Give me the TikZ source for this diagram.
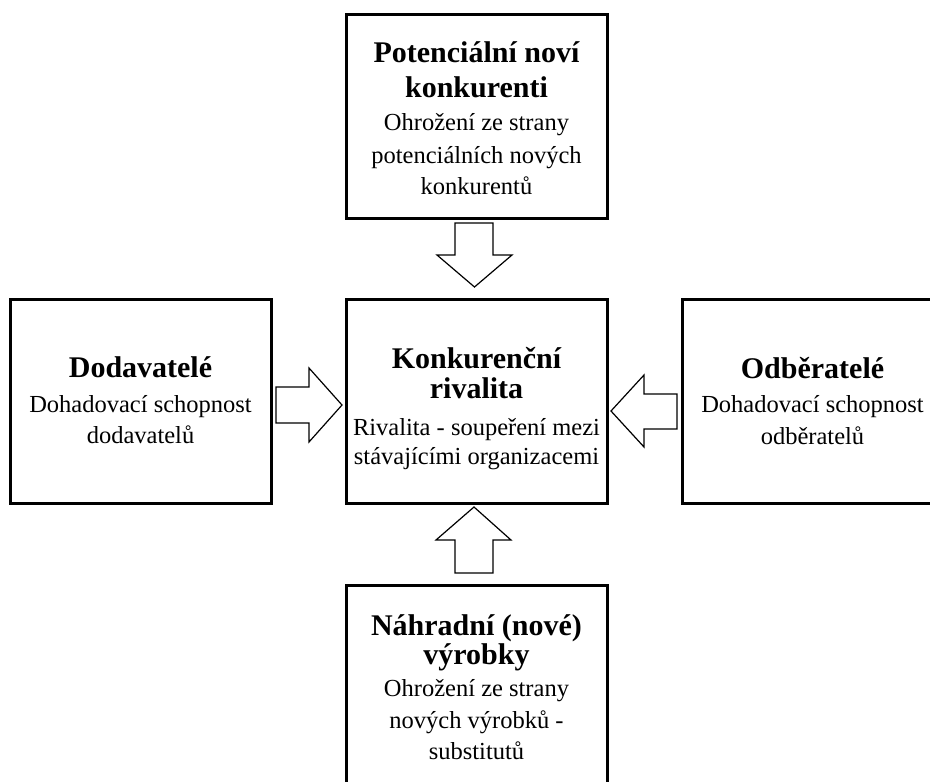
\documentclass[tikz,border=0pt]{standalone}
\usepackage{fontspec}
\setmainfont{Liberation Serif}
\tikzset{
  box/.style={draw, line width=3pt, minimum width=261pt, minimum height=204pt, inner sep=0pt},
  ttl/.style={anchor=base, inner sep=0pt, font=\fontsize{30}{32}\selectfont\bfseries},
  ln/.style={anchor=base, inner sep=0pt, font=\fontsize{24.5}{30}\selectfont},
  barrow/.style={draw, line width=1.2pt, fill=white, line join=miter}
}
\begin{document}
\begin{tikzpicture}[x=1pt, y=-1pt]
\useasboundingbox (0,0) rectangle (930,782);
\clip (0,0) rectangle (930,782);
\fill[white] (0,0) rectangle (930,782);

% boxes
\node[box] (topbox) at (476.5,116.5) {};
\node[box] (centerbox) at (476.5,401) {};
\node[box] (leftbox) at (140.5,401) {};
\node[box] (rightbox) at (812.5,401) {};
\node[box] (bottombox) at (476.5,687) {};

% top box text
\node[ttl] (t1) at (476.5,62) {Potenciální noví};
\node[ttl] (t2) at (476.5,97) {konkurenti};
\node[ln] (t3) at (476.5,130) {Ohrožení ze strany};
\node[ln] (t4) at (476.5,163) {potenciálních nových};
\node[ln] (t5) at (476.5,194) {konkurentů};

% left box text
\node[ttl] (l1) at (140.5,377) {Dodavatelé};
\node[ln] (l2) at (140.5,412) {Dohadovací schopnost};
\node[ln] (l3) at (140.5,443) {dodavatelů};

% center box text
\node[ttl] (c1) at (476.5,368) {Konkurenční};
\node[ttl] (c2) at (476.5,398) {rivalita};
\node[ln] (c3) at (476.5,435) {Rivalita - soupeření mezi};
\node[ln] (c4) at (476.5,464) {stávajícími organizacemi};

% right box text
\node[ttl] (r1) at (812.5,378) {Odběratelé};
\node[ln] (r2) at (812.5,412) {Dohadovací schopnost};
\node[ln] (r3) at (812.5,444) {odběratelů};

% bottom box text
\node[ttl] (b1) at (476.5,635) {Náhradní (nové)};
\node[ttl] (b2) at (476.5,664) {výrobky};
\node[ln] (b3) at (476.5,696) {Ohrožení ze strany};
\node[ln] (b4) at (476.5,728) {nových výrobků -};
\node[ln] (b5) at (476.5,759) {substitutů};

% block arrows
\draw[barrow] (455,223) -- (493,223) -- (493,255) -- (512,255) -- (474.5,287) -- (437,255) -- (455,255) -- cycle;
\draw[barrow] (276,387) -- (309,387) -- (309,368) -- (342,405) -- (309,442) -- (309,423) -- (276,423) -- cycle;
\draw[barrow] (677,394) -- (644,394) -- (644,375) -- (611,411) -- (644,447) -- (644,429) -- (677,429) -- cycle;
\draw[barrow] (455,573) -- (455,540) -- (436,540) -- (474,507) -- (511,540) -- (493,540) -- (493,573) -- cycle;
\end{tikzpicture}
\end{document}
